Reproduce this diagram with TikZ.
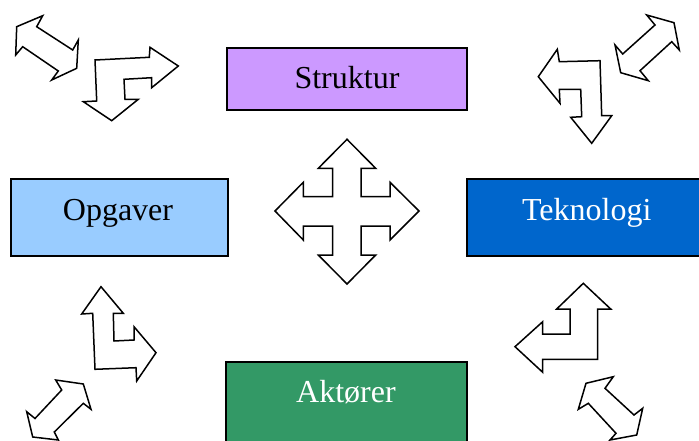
\documentclass[tikz,border=0pt]{standalone}
\usepackage{fontspec}
\setmainfont{Liberation Serif}
\definecolor{lilac}{HTML}{CC99FF}
\definecolor{skyblue}{HTML}{99CCFF}
\definecolor{deepblue}{HTML}{0066CC}
\definecolor{seagreen}{HTML}{339966}
\begin{document}
\begin{tikzpicture}[x=1pt,y=-1pt,
  box/.style={draw=black,line width=1.3pt,inner sep=0pt},
  lbl/.style={anchor=base,inner sep=0pt,font=\fontsize{32}{36}\selectfont},
  shapearrow/.style={draw=black,fill=white,line width=1.5pt,line join=miter}]
\useasboundingbox (0,0) rectangle (699,441);
\clip (0,0) rectangle (699,441);

% category boxes
\path[box,fill=lilac] (227,48) rectangle (467,110) node[pos=.5] (strbox) {};
\path[box,fill=skyblue] (11,179) rectangle (228,256) node[pos=.5] (opgbox) {};
\path[box,fill=deepblue] (467,179) rectangle (712,256) node[pos=.5] (tekbox) {};
\path[box,fill=seagreen] (226,362) rectangle (467,460) node[pos=.5] (aktbox) {};

\node[lbl] (struktur) at (347,89) {Struktur};
\node[lbl] (opgaver) at (118,220) {Opgaver};
\node[lbl,text=white] (teknologi) at (586.7,220) {Teknologi};
\node[lbl,text=white] (aktorer) at (346,402) {Aktører};

% four-way arrow in the middle
\draw[shapearrow] (347,139.3) -- (375.7,168.3) -- (361,168.3) -- (361,196.7)
  -- (390,196.7) -- (390,182.3) -- (419,211) -- (390,240) -- (390,226)
  -- (361,226) -- (361,255) -- (375.7,255) -- (347,284) -- (318.3,255)
  -- (332.7,255) -- (332.7,226) -- (303.3,226) -- (303.3,240) -- (275,211)
  -- (303.3,182.3) -- (303.3,196.7) -- (332.7,196.7) -- (332.7,168.3)
  -- (318.3,168.3) -- cycle;

% top left: double arrow and bent arrow
\draw[shapearrow] (16.7,26.7) -- (42.7,15.7) -- (36.7,26.7) -- (72.7,50)
  -- (78.3,40) -- (76.7,68.3) -- (51.7,80) -- (58.3,71) -- (22.7,46.7)
  -- (15.7,55) -- cycle;
\draw[shapearrow] (95,60) -- (149.3,57.3) -- (150,47.3) -- (178.3,66)
  -- (151.7,87.7) -- (151.7,77.7) -- (124,79.3) -- (125,99.3) -- (138.3,99.3)
  -- (111.7,120.7) -- (83.3,101.7) -- (96.7,101) -- cycle;

% top right: double arrow and bent arrow
\draw[shapearrow] (615,45) -- (622.7,54) -- (655,25) -- (646.7,15)
  -- (674,22.7) -- (679.3,50) -- (671.7,41.7) -- (640,70.7) -- (648.3,80.7)
  -- (620.7,72.7) -- cycle;
\draw[shapearrow] (538.3,76.7) -- (557.3,49.3) -- (559.3,61.7) -- (600,60.7)
  -- (601.7,115.7) -- (611.7,115.7) -- (591.7,143.3) -- (570.7,117.3)
  -- (581.7,116.7) -- (580.7,89.3) -- (559.3,89.3) -- (560,103.3) -- cycle;

% bottom left: bent arrow and double arrow
\draw[shapearrow] (101,286.7) -- (123.3,313.3) -- (113.3,313.3) -- (114,341)
  -- (134,340) -- (134,326.7) -- (156,352.7) -- (136.7,381) -- (136,367.7)
  -- (95,369.3) -- (92.7,313.3) -- (81.7,314) -- cycle;
\draw[shapearrow] (55.7,380) -- (83.3,384) -- (91,409.3) -- (83.3,403.3)
  -- (54.3,432) -- (58.3,440) -- (32.7,437) -- (26.7,411.7) -- (35,418.5)
  -- (61.7,390) -- cycle;

% bottom right: bent arrow and double arrow
\draw[shapearrow] (583.3,283.3) -- (610.7,309) -- (597.7,309) -- (597.7,359.3)
  -- (542.7,359.3) -- (542.7,372.3) -- (515,346.7) -- (542.7,321.7)
  -- (542.7,334) -- (570,334) -- (570,309) -- (556.7,309) -- cycle;
\draw[shapearrow] (586,383.3) -- (613.3,376.7) -- (605,388.3) -- (634,415)
  -- (642.7,408.3) -- (636.7,435) -- (610,440) -- (616,433.3) -- (588.3,403.3)
  -- (578.3,409.3) -- cycle;
\end{tikzpicture}
\end{document}
